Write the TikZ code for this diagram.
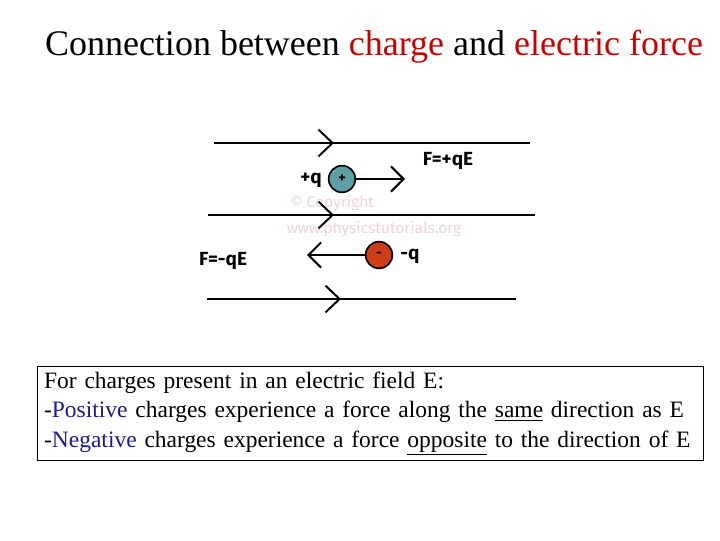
\documentclass[tikz,border=0pt]{standalone}
\usepackage{fontspec}
\setmainfont{Liberation Serif}
\newfontfamily\labelfont{Fira Sans}
\usepackage{tikz}
\usetikzlibrary{arrows.meta,positioning}
\definecolor{TitleRed}{HTML}{CC0000}
\definecolor{TextBlue}{HTML}{1A1A9C}
\definecolor{PosTeal}{HTML}{5E9EA5}
\definecolor{NegRed}{HTML}{CF3D14}
\definecolor{MarkPink}{HTML}{F3D3D3}

\begin{document}
\begin{tikzpicture}[
    x=0.025cm, y=-0.025cm,
    field/.style={
      line width=1.4pt,
      color=black
    },
    fieldtip/.style={
      line width=1.4pt,
      -{Straight Barb[length=10pt,width=19pt,line width=1.4pt]}
    },
    force/.style={
      line width=1.4pt,
      -{Straight Barb[length=9pt,width=18pt,line width=1.4pt]}
    },
    charge/.style={
      circle,
      draw=black,
      line width=1.2pt,
      fill=#1,
      minimum size=19pt,
      inner sep=0pt,
      font=\labelfont\bfseries\normalsize
    },
    tag/.style={
      font=\labelfont\bfseries\fontsize{13.5}{16}\selectfont
    },
    watermark/.style={
      font=\labelfont\fontsize{11}{13}\selectfont,
      color=MarkPink
    },
    infobox/.style={
      draw=black,
      line width=0.6pt,
      anchor=north west,
      minimum width=473.5pt,
      minimum height=66.8pt,
      text width=464pt,
      align=left,
      inner xsep=4.5pt,
      inner ysep=3pt,
      font=\fontsize{16.7}{21}\selectfont
    }
  ]
  \useasboundingbox (0,0) rectangle (720,540);

  % Title
  \node[font=\fontsize{25.6}{30}\selectfont] (title) at (374,47)
    {Connection between \textcolor{TitleRed}{charge} and \textcolor{TitleRed}{electric force}};

  % Watermark
  \node[watermark] (wm1) at (332,203) {\textcopyright{} Copyright};
  \node[watermark] (wm2) at (374,229) {www.physicstutorials.org};

  % Field lines
  \coordinate (f1a) at (214,143);
  \coordinate (f1m) at (334,143);
  \coordinate (f1b) at (530,143);
  \coordinate (f2a) at (208,215);
  \coordinate (f2m) at (334,215);
  \coordinate (f2b) at (535,215);
  \coordinate (f3a) at (207,299);
  \coordinate (f3m) at (341,299);
  \coordinate (f3b) at (516,299);
  \draw[field] (f1a) -- (f1b);
  \draw[fieldtip] (f1a) -- (f1m);
  \draw[field] (f2a) -- (f2b);
  \draw[fieldtip] (f2a) -- (f2m);
  \draw[field] (f3a) -- (f3b);
  \draw[fieldtip] (f3a) -- (f3m);

  % Charges and forces
  \node[charge=PosTeal] (pos) at (342,179) {+};
  \node[charge=NegRed]  (neg) at (379,255) {-};
  \coordinate (fpos) at (405,179);
  \coordinate (fneg) at (307,255);
  \draw[force] (pos) -- (fpos);
  \draw[force] (neg) -- (fneg);

  \node[tag] (posq) at (311,180) {+q};
  \node[tag] (negq) at (410,256) {-q};
  \node[tag] (fposl) at (448,161) {F=+qE};
  \node[tag] (fnegl) at (223,261) {F=-qE};

  % Summary
  \node[infobox] (info) at (37,366)
    {For charges present in an electric field E:\\
     -\textcolor{TextBlue}{Positive} charges experience a force along the \underline{same} direction as E\\
     -\textcolor{TextBlue}{Negative} charges experience a force \underline{opposite} to the direction of E};

\end{tikzpicture}
\end{document}
